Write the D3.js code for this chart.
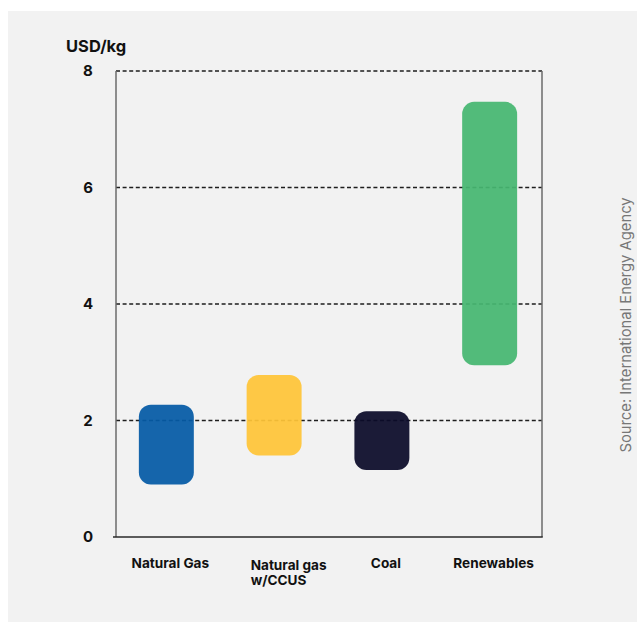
<!DOCTYPE html>
<html>
<head>
<meta charset="utf-8">
<script src="https://cdn.jsdelivr.net/npm/d3@7"></script>
<style>
  html, body { margin: 0; padding: 0; background: #ffffff; }
  svg { display: block; }
  text { font-family: "Inter", "Lato", "DejaVu Sans", sans-serif; }
</style>
</head>
<body>
<svg id="chart" width="637" height="622"></svg>
<script>
// Hydrogen production cost ranges by source (USD/kg)
const categories = ["Natural Gas", "Natural gas\nw/CCUS", "Coal", "Renewables"];
const lowValues  = [0.9, 1.4, 1.15, 2.95];
const highValues = [2.27, 2.78, 2.16, 7.47];
const colors     = ["#045aa6", "#ffc538", "#0b0b29", "#46b771"];
const yTicks     = [0, 2, 4, 6, 8];
const yLabel     = "USD/kg";
const sourceNote = "Source: International Energy Agency";

const svg = d3.select("#chart");
const W = 637, H = 622;

// Background panel
svg.append("rect")
  .attr("x", 8).attr("y", 11)
  .attr("width", W - 8).attr("height", H - 11)
  .attr("fill", "#f2f2f2");

const plot = { left: 116, right: 542, top: 71, bottom: 537 };

const y = d3.scaleLinear().domain([0, 8]).range([plot.bottom, plot.top]);
const x = d3.scaleBand()
  .domain(categories)
  .range([113, 543])
  .paddingInner(0.49)
  .paddingOuter(0.24);

// Dashed gridlines (the top one closes the frame)
svg.append("g")
  .selectAll("line")
  .data(yTicks.filter(d => d > 0))
  .join("line")
  .attr("x1", plot.left).attr("x2", plot.right)
  .attr("y1", d => y(d)).attr("y2", d => y(d))
  .attr("stroke", "#1e1e1e")
  .attr("stroke-width", 1.6)
  .attr("stroke-dasharray", "4,2.6");

// Frame: left, right and bottom solid lines
svg.append("line")
  .attr("x1", plot.left).attr("x2", plot.left)
  .attr("y1", plot.top).attr("y2", plot.bottom)
  .attr("stroke", "#6b6b6b").attr("stroke-width", 1.5);
svg.append("line")
  .attr("x1", plot.right).attr("x2", plot.right)
  .attr("y1", plot.top).attr("y2", plot.bottom)
  .attr("stroke", "#6b6b6b").attr("stroke-width", 1.5);
svg.append("line")
  .attr("x1", plot.left - 3).attr("x2", plot.right + 0.75)
  .attr("y1", plot.bottom).attr("y2", plot.bottom)
  .attr("stroke", "#2a2a2a").attr("stroke-width", 1.5);

// Range bars (floating, rounded)
svg.append("g")
  .selectAll("rect")
  .data(categories)
  .join("rect")
  .attr("x", d => x(d))
  .attr("width", x.bandwidth())
  .attr("y", (d, i) => y(highValues[i]))
  .attr("height", (d, i) => y(lowValues[i]) - y(highValues[i]))
  .attr("rx", 12).attr("ry", 12)
  .attr("fill", (d, i) => colors[i])
  .attr("fill-opacity", 0.93);

// Y tick labels
svg.append("g")
  .selectAll("text")
  .data(yTicks)
  .join("text")
  .attr("x", 88)
  .attr("y", d => y(d))
  .attr("dy", "0.36em")
  .attr("text-anchor", "middle")
  .attr("font-size", 15)
  .attr("font-weight", 700)
  .attr("fill", "#111")
  .text(d => d);

// Unit label
svg.append("text")
  .attr("x", 66).attr("y", 52)
  .attr("font-size", 16.5)
  .attr("font-weight", 700)
  .attr("fill", "#111")
  .text(yLabel);

// Category labels (one text element per line)
const catLabels = svg.append("g");
categories.forEach(c => {
  const lines = c.split("\n");
  const multi = lines.length > 1;
  const lx = multi ? x(c) + 4 : x(c) + x.bandwidth() / 2 + 4;
  lines.forEach((l, i) => {
    catLabels.append("text")
      .attr("x", lx)
      .attr("y", (multi ? 570 : 568) + i * 14.5)
      .attr("text-anchor", multi ? "start" : "middle")
      .attr("font-size", 13.6)
      .attr("font-weight", 700)
      .attr("fill", "#111")
      .text(l);
  });
});

// Source note, rotated along the right edge
svg.append("text")
  .attr("transform", "translate(630.5,325) rotate(-90)")
  .attr("text-anchor", "middle")
  .attr("font-family", "Liberation Sans, Arial, sans-serif")
  .attr("font-size", 14.8)
  .attr("fill", "#777")
  .text(sourceNote);
</script>
</body>
</html>
